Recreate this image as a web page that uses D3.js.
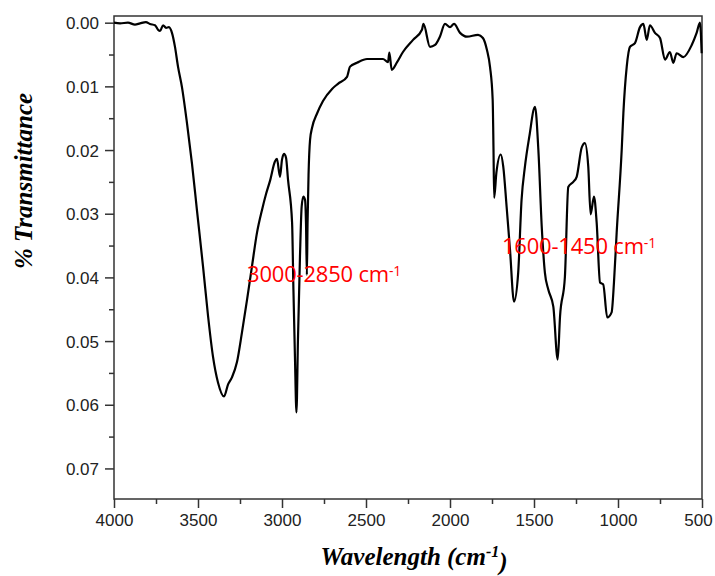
<!DOCTYPE html>
<html>
<head>
<meta charset="utf-8">
<script src="https://cdn.jsdelivr.net/npm/d3@7"></script>
<style>
  body { margin: 0; background: #fff; }
  .tick text { font-family: "Liberation Sans", Arial, sans-serif; font-size: 17px; fill: #222; }
  .tick line { stroke: #333; stroke-width: 1.5; }
</style>
</head>
<body>
<svg width="715" height="576"></svg>
<script>
// FTIR spectrum, wavenumber vs transmittance

const width = 715;
const height = 576;
const margin = { top: 16, right: 13, bottom: 77, left: 114 };

// wavenumbers (cm-1)
const wavenumbers = [
  4000, 3964, 3917, 3875, 3845, 3810, 3786, 3756, 3738, 3726, 3708, 3690, 3673, 3655, 3637, 3619,
  3595, 3565, 3536, 3506, 3470, 3440, 3411, 3381, 3345, 3321, 3298, 3268, 3238, 3208, 3179, 3149,
  3119, 3095, 3071, 3042, 3030, 3012, 3000, 2988, 2976, 2964, 2940, 2932, 2923, 2914, 2905, 2893,
  2883, 2873, 2863, 2857, 2852, 2848, 2842, 2833, 2821, 2792, 2756, 2702, 2667, 2613, 2595, 2554,
  2494, 2399, 2369, 2361, 2347, 2315, 2280, 2220, 2167, 2158, 2119, 2089, 2060, 2030, 2000, 1976,
  1940, 1899, 1833, 1804, 1780, 1762, 1746, 1741, 1737, 1724, 1698, 1683, 1663, 1643, 1619, 1594,
  1574, 1554, 1528, 1494, 1474, 1454, 1435, 1415, 1385, 1359, 1345, 1316, 1296, 1266, 1246, 1216,
  1197, 1177, 1163, 1143, 1127, 1107, 1088, 1064, 1038, 1024, 1008, 978, 968, 948, 929, 899,
  869, 849, 829, 810, 780, 750, 720, 691, 671, 651, 611, 561, 532, 512, 502
];

// transmittance values at those wavenumbers
const transmittance = [
  0.0000, 0.0001, 0.0000, 0.0003, 0.0001, -0.0001, 0.0002, 0.0004, 0.0011, 0.0013, 0.0004, 0.0008, 0.0007, 0.0016, 0.0038, 0.0069,
  0.0102, 0.0159, 0.0221, 0.0295, 0.0383, 0.0461, 0.0524, 0.0565, 0.0587, 0.0568, 0.0557, 0.0533, 0.0486, 0.0435, 0.0383, 0.0330,
  0.0294, 0.0269, 0.0248, 0.0218, 0.0214, 0.0242, 0.0215, 0.0206, 0.0212, 0.0247, 0.0314, 0.0419, 0.0524, 0.0612, 0.0497, 0.0367,
  0.0289, 0.0273, 0.0278, 0.0317, 0.0396, 0.0317, 0.0239, 0.0184, 0.0165, 0.0143, 0.0123, 0.0104, 0.0096, 0.0085, 0.0069, 0.0063,
  0.0057, 0.0057, 0.0062, 0.0047, 0.0074, 0.0062, 0.0046, 0.0027, 0.0011, 0.0002, 0.0038, 0.0035, 0.0022, 0.0002, 0.0007, 0.0002,
  0.0016, 0.0022, 0.0019, 0.0024, 0.0043, 0.0069, 0.0121, 0.0200, 0.0275, 0.0236, 0.0207, 0.0226, 0.0289, 0.0356, 0.0438, 0.0392,
  0.0278, 0.0226, 0.0179, 0.0132, 0.0200, 0.0320, 0.0393, 0.0419, 0.0446, 0.0529, 0.0461, 0.0399, 0.0258, 0.0250, 0.0242, 0.0196,
  0.0189, 0.0226, 0.0301, 0.0273, 0.0314, 0.0408, 0.0411, 0.0463, 0.0455, 0.0408, 0.0330, 0.0200, 0.0142, 0.0069, 0.0038, 0.0032,
  0.0007, 0.0002, 0.0027, 0.0004, 0.0016, 0.0024, 0.0058, 0.0046, 0.0063, 0.0048, 0.0054, 0.0035, 0.0016, 0.0000, 0.0048
];

const xTicks = [4000, 3500, 3000, 2500, 2000, 1500, 1000, 500];
const yTicks = [0, 0.01, 0.02, 0.03, 0.04, 0.05, 0.06, 0.07];

// band labels
const bandLabels = ["3000-2850 cm", "1600-1450 cm"];
const bandLabelPos = [[3208, 0.0408], [1691, 0.0364]]; // [wavenumber, transmittance] of text baseline start

const data = wavenumbers.map((w, i) => ({ w: w, t: transmittance[i] }));

const svg = d3.select("svg");

const x = d3.scaleLinear()
  .domain([4000, 500])
  .range([margin.left, width - margin.right]);

const y = d3.scaleLinear()
  .domain([-0.00105, 0.0748])
  .range([margin.top, height - margin.bottom]);

// minor ticks
svg.append("g")
  .attr("transform", `translate(0,${height - margin.bottom})`)
  .call(d3.axisBottom(x).tickValues(d3.range(3750, 500, -500)).tickSize(5).tickFormat(""))
  .call(g => g.select(".domain").remove());

svg.append("g")
  .attr("transform", `translate(${margin.left},0)`)
  .call(d3.axisLeft(y).tickValues(d3.range(0.005, 0.075, 0.01)).tickSize(5).tickFormat(""))
  .call(g => g.select(".domain").remove());

// major ticks
svg.append("g")
  .attr("transform", `translate(0,${height - margin.bottom})`)
  .call(d3.axisBottom(x).tickValues(xTicks).tickSize(9).tickPadding(6).tickFormat(d3.format("d")))
  .call(g => g.select(".domain").remove())
  .selectAll(".tick text")
  .filter(d => d === 500)
  .attr("dx", "-4");

svg.append("g")
  .attr("transform", `translate(${margin.left},0)`)
  .call(d3.axisLeft(y).tickValues(yTicks).tickSize(9).tickPadding(6).tickFormat(d3.format(".2f")))
  .call(g => g.select(".domain").remove())
  .selectAll(".tick text").attr("dy", "0.36em");

// frame
svg.append("rect")
  .attr("x", margin.left)
  .attr("y", margin.top)
  .attr("width", width - margin.left - margin.right)
  .attr("height", height - margin.top - margin.bottom)
  .attr("fill", "none")
  .attr("stroke", "#333")
  .attr("stroke-width", 1.5);

// spectrum
const line = d3.line()
  .x(d => x(d.w))
  .y(d => y(d.t))
  .curve(d3.curveMonotoneX);

svg.append("path")
  .datum(data)
  .attr("fill", "none")
  .attr("stroke", "#000")
  .attr("stroke-width", 2.2)
  .attr("stroke-linejoin", "round")
  .attr("d", line);

// red band annotations
bandLabels.forEach((lab, i) => {
  const t = svg.append("text")
    .attr("x", x(bandLabelPos[i][0]))
    .attr("y", y(bandLabelPos[i][1]))
    .attr("fill", "#ff0000")
    .style("font-family", "'Open Sans', sans-serif")
    .style("font-size", "22px")
    .style("letter-spacing", "-0.2px")
    .text(lab);
  t.append("tspan")
    .attr("dy", "-0.45em")
    .style("font-size", "14px")
    .text("-1");
});

// axis titles
svg.append("text")
  .attr("transform", "rotate(-90)")
  .attr("x", -181)
  .attr("y", 32)
  .style("text-anchor", "middle")
  .style("font-family", "'Liberation Serif', 'Times New Roman', serif")
  .style("font-weight", "bold")
  .style("font-style", "italic")
  .style("font-size", "25px")
  .text("% Transmittance");

const xt = svg.append("text")
  .attr("x", 414)
  .attr("y", 565)
  .style("text-anchor", "middle")
  .style("font-family", "'Liberation Serif', 'Times New Roman', serif")
  .style("font-weight", "bold")
  .style("font-style", "italic")
  .style("font-size", "25px")
  .text("Wavelength (cm");
xt.append("tspan").attr("dy", "-0.5em").style("font-size", "16px").text("-1");
xt.append("tspan").attr("dy", "0.5em").text(")");
</script>
</body>
</html>
